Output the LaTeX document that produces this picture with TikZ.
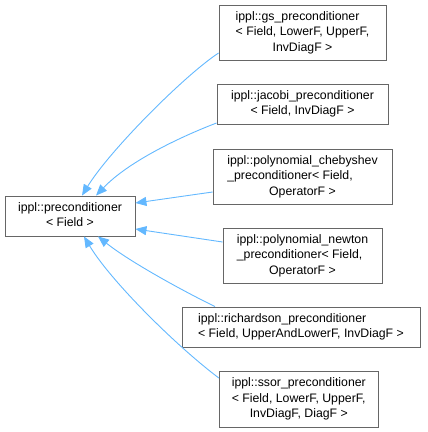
\documentclass[tikz,border=0pt]{standalone}
\usepackage{fontspec}
\setmainfont{Liberation Sans}
\usetikzlibrary{arrows.meta}
\definecolor{edgeblue}{HTML}{63B8FF}
\definecolor{boxgray}{HTML}{666666}
\tikzset{
  cls/.style={draw=boxgray, line width=0.9pt, fill=white, inner sep=0pt,
    font=\fontsize{12.3}{15.5}\selectfont},
  inh/.style={draw=edgeblue, line width=0.9pt,
    -{Triangle[length=11pt,width=9pt,fill=edgeblue]}}
}
\newcommand{\ctrline}[1]{\multicolumn{1}{@{}c@{}}{#1}}
\begin{document}
\begin{tikzpicture}[x=1pt,y=-1pt]
\useasboundingbox (0,0) rectangle (428,432);
\node[cls, minimum width=130pt, minimum height=40pt] (base) at (70,216)
  {\begin{tabular}{@{}l@{}}ippl::preconditioner\\ \ctrline{< Field >}\end{tabular}};
\node[cls, minimum width=167pt, minimum height=55pt] (gs) at (302.5,32.5)
  {\begin{tabular}{@{}l@{}}ippl::gs\_preconditioner\\ < Field, LowerF, UpperF,\\ \ctrline{InvDiagF >}\end{tabular}};
\node[cls, minimum width=171pt, minimum height=40pt] (jac) at (302.5,104)
  {\begin{tabular}{@{}l@{}}ippl::jacobi\_preconditioner\\ \ctrline{< Field, InvDiagF >}\end{tabular}};
\node[cls, minimum width=179pt, minimum height=55pt] (cheb) at (302.5,176.5)
  {\begin{tabular}{@{}l@{}}ippl::polynomial\_chebyshev\\ \_preconditioner< Field,\\ \ctrline{OperatorF >}\end{tabular}};
\node[cls, minimum width=159pt, minimum height=55pt] (newt) at (302.5,255.5)
  {\begin{tabular}{@{}l@{}}ippl::polynomial\_newton\\ \_preconditioner< Field,\\ \ctrline{OperatorF >}\end{tabular}};
\node[cls, minimum width=238pt, minimum height=40pt] (rich) at (301,327)
  {\begin{tabular}{@{}l@{}}ippl::richardson\_preconditioner\\ \ctrline{< Field, UpperAndLowerF, InvDiagF >}\end{tabular}};
\node[cls, minimum width=159pt, minimum height=56pt] (ssor) at (298.8,399)
  {\begin{tabular}{@{}l@{}}ippl::ssor\_preconditioner\\ < Field, LowerF, UpperF,\\ \ctrline{InvDiagF, DiagF >}\end{tabular}};

\draw[inh] ([yshift=-20.5pt]gs.west) .. controls (185,75) and (110,150) .. ([xshift=12pt]base.north);
\draw[inh] ([yshift=-19pt]jac.west) .. controls (185,135) and (130,160) .. ([xshift=26pt]base.north);
\draw[inh] ([yshift=-15.5pt]cheb.west) -- ([yshift=13pt]base.east);
\draw[inh] ([yshift=13.5pt]newt.west) -- ([yshift=-13pt]base.east);
\draw[inh] ([xshift=-86pt]rich.north) .. controls (185,292) and (130,262) .. ([xshift=28pt]base.south);
\draw[inh] ([yshift=21pt]ssor.west) .. controls (175,345) and (110,280) .. ([xshift=14pt]base.south);
\end{tikzpicture}
\end{document}
